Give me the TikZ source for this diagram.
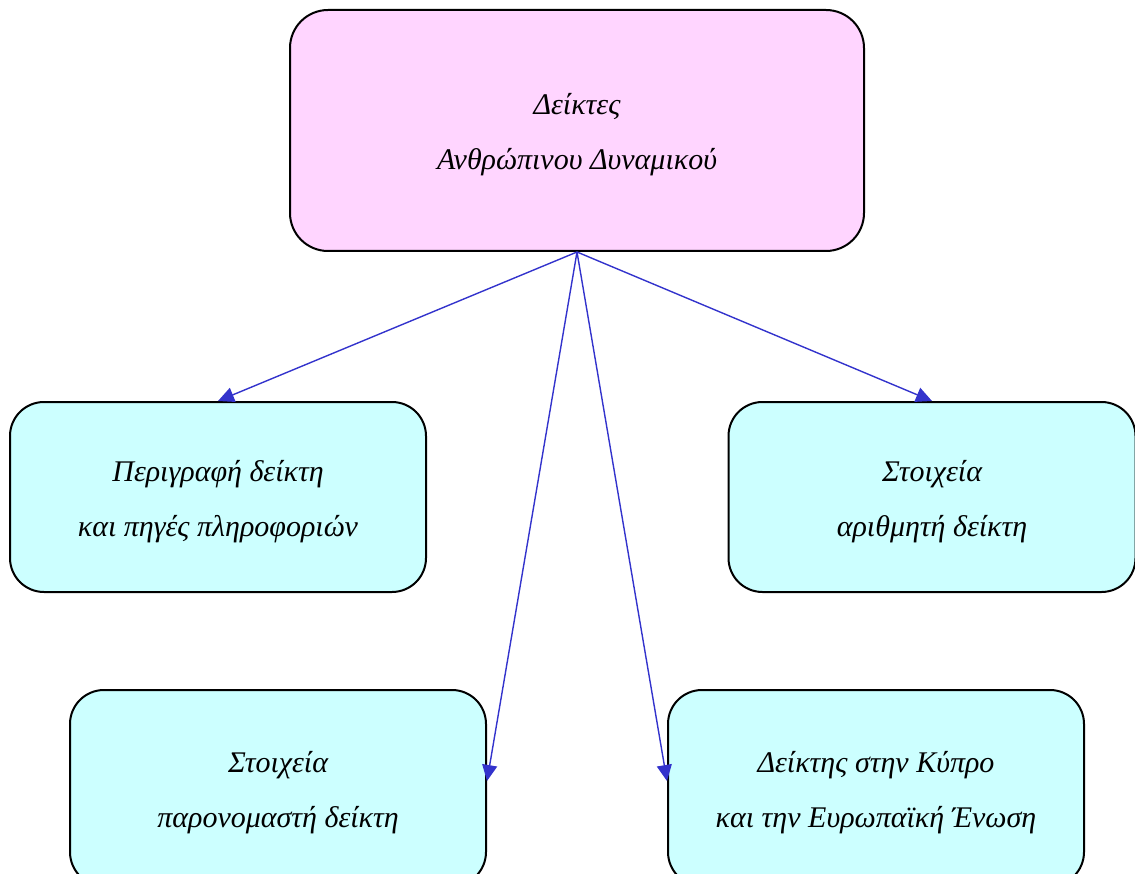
\documentclass[tikz,border=0pt]{standalone}
\usepackage{fontspec}
\setmainfont{Liberation Serif}
\usetikzlibrary{arrows.meta}
\definecolor{pinkfill}{HTML}{FFD5FF}
\definecolor{cyanfill}{HTML}{CCFFFF}
\definecolor{arrowblue}{HTML}{3333CC}
\newcommand{\lowstrut}{\rule{0pt}{30pt}}
\begin{document}
\begin{tikzpicture}[x=1pt,y=-1pt,
  box/.style={draw=black, line width=2pt, rounded corners=38pt, align=center,
    font=\itshape\fontsize{30}{55}\selectfont, inner sep=0pt},
  topbox/.style={box, fill=pinkfill},
  subbox/.style={box, fill=cyanfill, rounded corners=34pt},
  conn/.style={draw=arrowblue, line width=1.4pt, -{Triangle[length=16pt,width=15pt]}}]
\useasboundingbox (0,0) rectangle (1135,874);
\begin{scope}
\clip (0,0) rectangle (1135,874);
\node[topbox, minimum width=574pt, minimum height=241pt] (top) at (577,130.5) {\lowstrut Δείκτες\\Ανθρώπινου Δυναμικού};
\node[subbox, minimum width=416pt, minimum height=190pt] (left) at (218,497) {\lowstrut Περιγραφή δείκτη\\και πηγές πληροφοριών};
\node[subbox, minimum width=407pt, minimum height=190pt] (right) at (932,497) {\lowstrut Στοιχεία\\αριθμητή δείκτη};
\node[subbox, minimum width=416pt, minimum height=196pt] (bl) at (278,788) {\lowstrut Στοιχεία\\παρονομαστή δείκτη};
\node[subbox, minimum width=416pt, minimum height=196pt] (br) at (876,788) {\lowstrut Δείκτης στην Κύπρο\\και την Ευρωπαϊκή Ένωση};
\end{scope}
\coordinate (src) at (top.south);
\draw[conn] (src) -- (left.north);
\draw[conn] (src) -- (right.north);
\draw[conn] (src) -- ([yshift=7pt]bl.east);
\draw[conn] (src) -- ([yshift=7pt]br.west);
\end{tikzpicture}
\end{document}
